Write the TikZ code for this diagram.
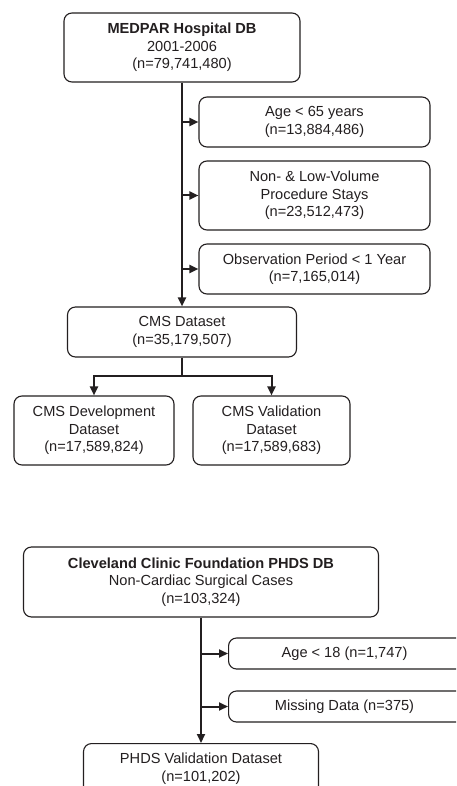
\documentclass[tikz,border=0pt]{standalone}
\usepackage{fontspec}
\setmainfont{Liberation Sans}
\usetikzlibrary{arrows.meta}
\definecolor{ink}{HTML}{231F20}
\tikzset{
  box/.style={draw=ink, text=ink, line width=1.1pt, rounded corners=8pt, inner sep=0pt, align=center,
    font=\fontsize{14.6}{17.5}\selectfont},
  conn/.style={draw=ink, line width=2pt},
  arr/.style={conn, -{Triangle[length=9pt,width=8pt]}}
}
\begin{document}
\begin{tikzpicture}[x=1pt,y=-1pt]
\clip (0,0) rectangle (456,786);
\fill[white] (0,0) rectangle (456,786);
% top flow
\node[box, minimum width=236pt, minimum height=69pt] (medpar) at (182,47.5) {\textbf{MEDPAR Hospital DB}\\2001-2006\\(n=79,741,480)};
\node[box, minimum width=231pt, minimum height=50pt] (age65) at (314.5,122) {Age < 65 years\\(n=13,884,486)};
\node[box, minimum width=231pt, minimum height=69pt] (nonlow) at (314.5,195.5) {Non- \& Low-Volume\\Procedure Stays\\(n=23,512,473)};
\node[box, minimum width=231pt, minimum height=50pt] (obs) at (314.5,269) {Observation Period < 1 Year\\(n=7,165,014)};
\node[box, minimum width=229pt, minimum height=50pt] (cms) at (182,332) {CMS Dataset\\(n=35,179,507)};
\node[box, minimum width=160pt, minimum height=69pt] (dev) at (94,430.5) {CMS Development\\Dataset\\(n=17,589,824)};
\node[box, minimum width=157pt, minimum height=69pt] (val) at (271.5,430.5) {CMS Validation\\Dataset\\(n=17,589,683)};
\draw[arr] (medpar.south) -- (cms.north);
\draw[arr] (medpar.south |- age65.west) -- (age65.west);
\draw[arr] (medpar.south |- nonlow.west) -- (nonlow.west);
\draw[arr] (medpar.south |- obs.west) -- (obs.west);
\coordinate (split) at (182,376);
\draw[conn] (cms.south) -- (split);
\draw[arr] (split) -| (dev.north);
\draw[arr] (split) -| (val.north);
% bottom flow
\node[box, minimum width=355pt, minimum height=70pt] (ccf) at (201,582) {\textbf{Cleveland Clinic Foundation PHDS DB}\\Non-Cardiac Surgical Cases\\(n=103,324)};
\node[box, minimum width=250pt, minimum height=31pt, anchor=west] (age18) at (228,653.5) {\hspace*{-18pt}Age < 18 (n=1,747)};
\node[box, minimum width=250pt, minimum height=31pt, anchor=west] (missing) at (228,706.5) {\hspace*{-18pt}Missing Data (n=375)};
\node[box, minimum width=235pt, minimum height=50pt, anchor=north] (phds) at (201,743) {PHDS Validation Dataset\\(n=101,202)};
\draw[arr] (ccf.south) -- (phds.north);
\draw[arr] (ccf.south |- age18.west) -- (age18.west);
\draw[arr] (ccf.south |- missing.west) -- (missing.west);
\end{tikzpicture}
\end{document}
